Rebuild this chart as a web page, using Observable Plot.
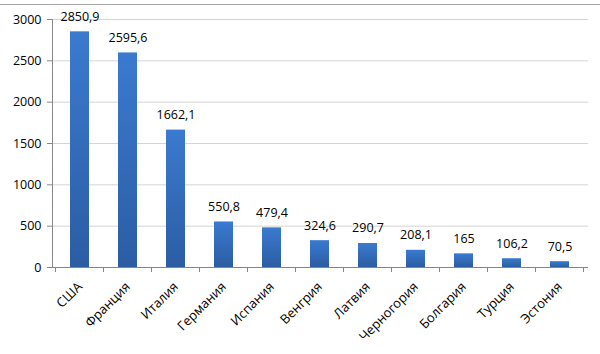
<!DOCTYPE html>
<html><head><meta charset="utf-8">
<script src="https://cdn.jsdelivr.net/npm/d3@7"></script>
<script src="https://cdn.jsdelivr.net/npm/@observablehq/plot@0.6"></script>
<style>
body{margin:0;background:#fff;}
#chart{position:relative;width:600px;height:354px;}
#topline{position:absolute;left:0;top:4px;width:600px;height:0;border-top:1.5px solid #a6a6a6;}
</style>
</head><body>
<div id="chart"><div id="topline"></div></div>
<script>
const countries = ["США","Франция","Италия","Германия","Испания","Венгрия","Латвия","Черногория","Болгария","Турция","Эстония"];
const values = [2850.9, 2595.6, 1662.1, 550.8, 479.4, 324.6, 290.7, 208.1, 165, 106.2, 70.5];
const labels = ["2850,9","2595,6","1662,1","550,8","479,4","324,6","290,7","208,1","165","106,2","70,5"];
const yTicks = [0, 500, 1000, 1500, 2000, 2500, 3000];

const data = countries.map((c, i) => ({country: c, value: values[i], label: labels[i]}));
const font = "'Open Sans', sans-serif";

const boundaryTicks = (index, scales, vals, dims) => {
  const g = d3.create("svg:g");
  const x = scales.x;
  const step = x.step();
  const y0 = scales.y(0);
  const starts = countries.map(c => x(c) - (step - x.bandwidth()) / 2);
  starts.push(starts[starts.length - 1] + step);
  for (const sx of starts) {
    g.append("line").attr("x1", sx).attr("x2", sx).attr("y1", y0).attr("y2", y0 + 5)
      .attr("stroke", "#868686").attr("stroke-width", 1);
  }
  return g.node();
};

const chart = Plot.plot({
  width: 600,
  height: 354,
  marginLeft: 52,
  marginRight: 12,
  marginTop: 19,
  marginBottom: 87,
  style: {fontFamily: font, fontSize: "12px", color: "#000", background: "transparent"},
  x: {domain: countries, paddingInner: 0.6, paddingOuter: 0.3, label: null},
  y: {domain: [0, 3000], label: null},
  marks: [
    Plot.ruleY(yTicks.filter(d => d > 0), {stroke: "#d4d4d4", strokeWidth: 1}),
    Plot.axisY({ticks: yTicks, tickSize: 5, tickPadding: 6, stroke: "#868686", fontSize: 12.5, fill: "#000", tickFormat: d => String(d)}),
    Plot.frame({anchor: "left", stroke: "#868686"}),
    Plot.barY(data, {x: "country", y: "value", fill: "url(#barGrad)"}),
    Plot.ruleY([0], {stroke: "#868686"}),
    boundaryTicks,
    Plot.text(data, {x: "country", y: "value", text: "label", dy: -15, fontSize: 12.5, fill: "#000"}),
    Plot.axisX({tickRotate: -45, tickSize: 0, tickPadding: 17, fontSize: 13, fill: "#000"})
  ]
});

const defs = d3.select(chart).insert("defs", ":first-child");
const grad = defs.append("linearGradient").attr("id", "barGrad").attr("x1", 0).attr("y1", 0).attr("x2", 0).attr("y2", 1);
grad.append("stop").attr("offset", "0%").attr("stop-color", "#3b7ad0");
grad.append("stop").attr("offset", "100%").attr("stop-color", "#2b5da3");

document.getElementById("chart").appendChild(chart);
</script>
</body></html>
